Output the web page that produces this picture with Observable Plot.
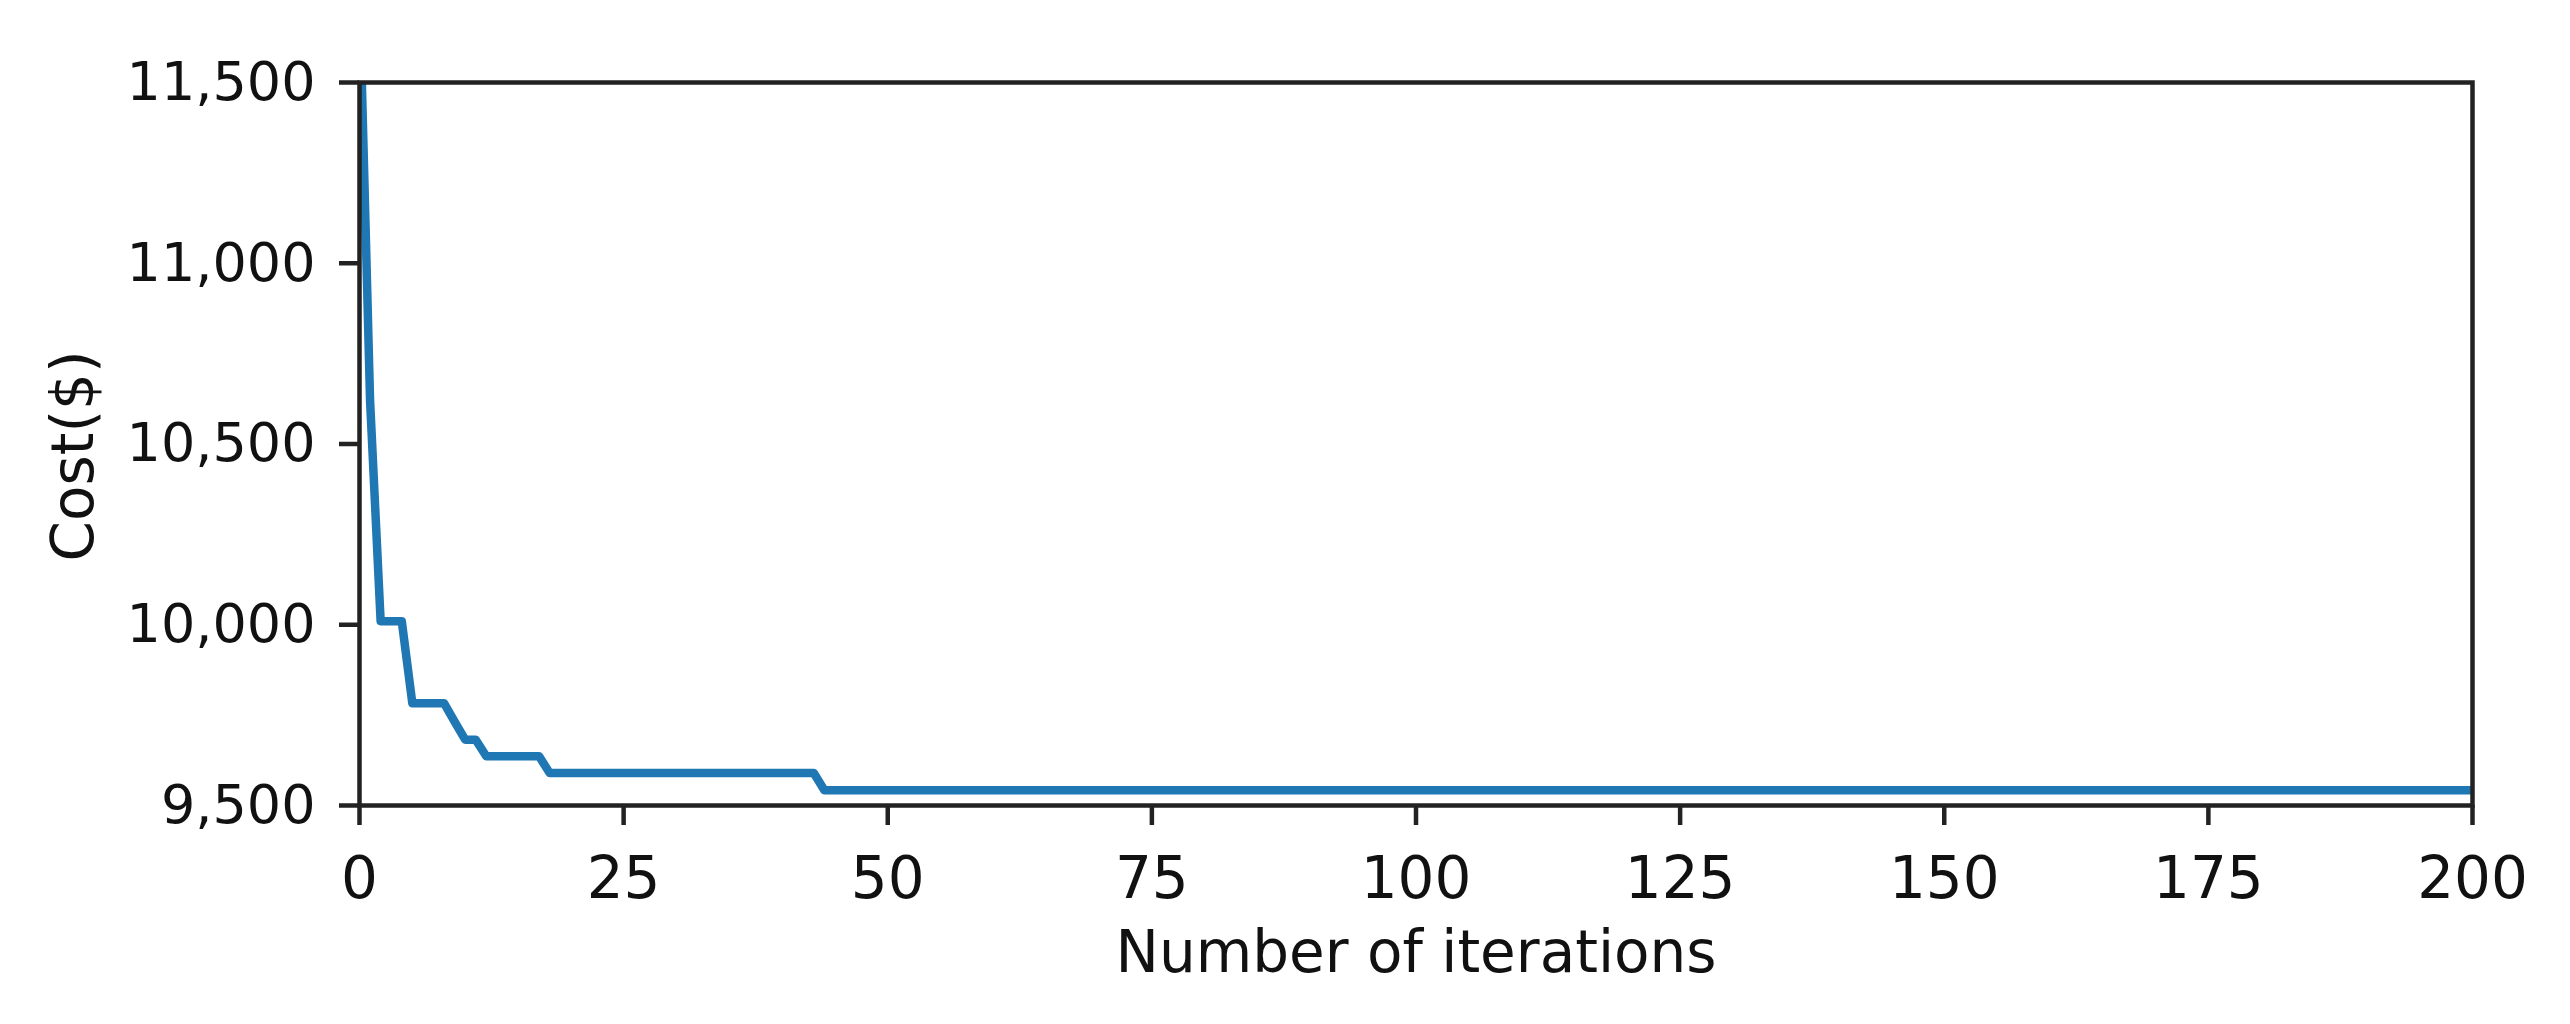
<!DOCTYPE html>
<html><head><meta charset="utf-8">
<script src="https://cdn.jsdelivr.net/npm/d3@7"></script>
<script src="https://cdn.jsdelivr.net/npm/@observablehq/plot@0.6"></script>
<style>body{margin:0;background:#fff;} svg{display:block}</style>
</head><body><div id="chart"></div>
<script>
const iterations = [0, 1, 2, 4, 5, 8, 9, 10, 11, 12, 17, 18, 43, 44, 200];
const costs = [11750, 10620, 10010, 10010, 9783, 9783, 9732, 9682, 9682, 9636, 9636, 9590, 9590, 9542, 9542];
const xTicks = [0, 25, 50, 75, 100, 125, 150, 175, 200];
const yTicks = [9500, 10000, 10500, 11000, 11500];
const xLabel = "Number of iterations";
const yLabel = "Cost($)";

const data = iterations.map((x, i) => ({x, y: costs[i]}));

const chart = Plot.plot({
  width: 2570, height: 1024,
  marginLeft: 359, marginRight: 98, marginTop: 82, marginBottom: 219,
  style: {fontFamily: "DejaVu Sans", fontSize: "54px", color: "#111", background: "#fff"},
  x: {domain: [0, 200]},
  y: {domain: [9500, 11500]},
  marks: [
    Plot.line(data, {x: "x", y: "y", stroke: "#1f77b4", strokeWidth: 8.5, clip: true}),
    Plot.frame({stroke: "#222", strokeWidth: 4.5}),
    Plot.axisX({ticks: xTicks, tickSize: 20, tickPadding: 31, strokeWidth: 4.5, stroke: "#222",
      label: xLabel, labelAnchor: "center", labelArrow: "none", labelOffset: 166, fontSize: 58}),
    Plot.axisY({ticks: yTicks, tickFormat: d3.format(","), tickSize: 20, tickPadding: 24, strokeWidth: 4.5, stroke: "#222",
      label: null}),
    Plot.text([yLabel], {text: d => d, frameAnchor: "left", textAnchor: "middle", lineAnchor: "middle",
      rotate: -90, dx: -285, dy: 12, fontFamily: "DejaVu Sans", fontSize: 58, fill: "#111"})
  ]
});
document.getElementById("chart").appendChild(chart);
</script>
</body></html>
